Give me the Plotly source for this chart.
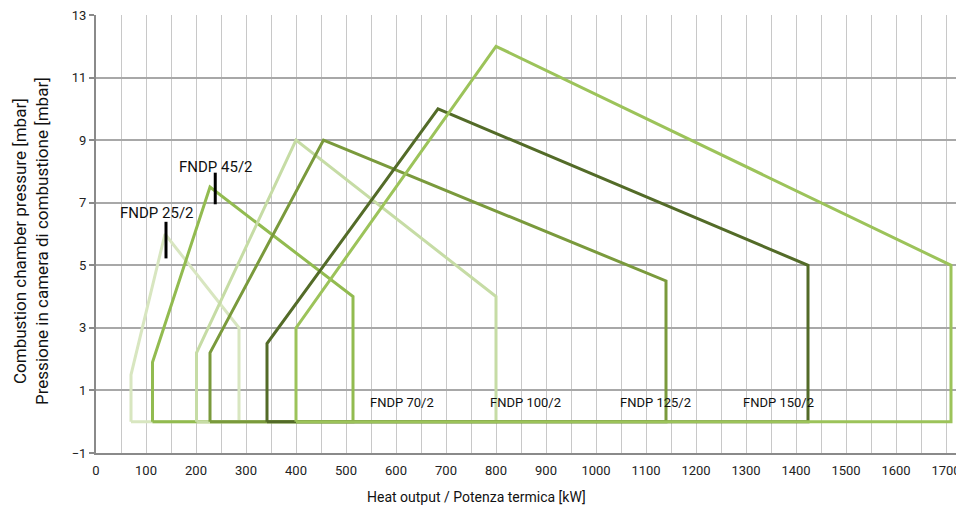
import plotly.graph_objects as go

# Working-range polygons (kW, mbar)
names = ["FNDP 25/2", "FNDP 45/2", "FNDP 70/2", "FNDP 100/2", "FNDP 125/2", "FNDP 150/2"]
x_25 = [70, 70, 138, 286, 286, 70]
y_25 = [0, 1.5, 6.0, 3.0, 0, 0]
x_45 = [113, 113, 228, 514, 514, 113]
y_45 = [0, 1.9, 7.5, 4.0, 0, 0]
x_70 = [201, 201, 400, 800, 800, 201]
y_70 = [0, 2.2, 9.0, 4.0, 0, 0]
x_100 = [228, 228, 455, 1140, 1140, 228]
y_100 = [0, 2.2, 9.0, 4.5, 0, 0]
x_125 = [342, 342, 684, 1424, 1424, 342]
y_125 = [0, 2.5, 10.0, 5.0, 0, 0]
x_150 = [400, 400, 800, 1710, 1710, 400]
y_150 = [0, 3.0, 12.0, 5.0, 0, 0]
colors = ["#d8e6c0", "#92bb50", "#c6dca5", "#7a9a3c", "#536b28", "#9cc35a"]

# Label pointer marks
mark25_x = [140, 140]
mark25_y = [5.22, 6.39]
mark45_x = [238.5, 238.5]
mark45_y = [6.95, 7.96]

# Text label positions
lab_top_names = ["FNDP 25/2", "FNDP 45/2"]
lab_top_x = [122, 239]
lab_top_y = [6.68, 8.15]
lab_bot_names = ["FNDP 70/2", "FNDP 100/2", "FNDP 125/2", "FNDP 150/2"]
lab_bot_x = [611, 858, 1118, 1364]
lab_bot_y = [0.6, 0.6, 0.6, 0.6]

y_ticks = [-1, 1, 3, 5, 7, 9, 11, 13]
x_ticks = list(range(0, 1701, 100))

xs = [x_25, x_45, x_70, x_100, x_125, x_150]
ys = [y_25, y_45, y_70, y_100, y_125, y_150]

FONT = "Roboto"
fig = go.Figure()
for n, x, y, c in zip(names, xs, ys, colors):
    fig.add_trace(go.Scatter(x=x, y=y, mode="lines", name=n,
                             line=dict(color=c, width=3), hoverinfo="skip"))
for mx, my in [(mark25_x, mark25_y), (mark45_x, mark45_y)]:
    fig.add_trace(go.Scatter(x=mx, y=my, mode="lines",
                             line=dict(color="#000000", width=3), hoverinfo="skip"))

for t, x, y in zip(lab_top_names, lab_top_x, lab_top_y):
    fig.add_annotation(x=x, y=y, text=t, showarrow=False,
                       font=dict(family=FONT, size=15, color="#111"))
for t, x, y in zip(lab_bot_names, lab_bot_x, lab_bot_y):
    fig.add_annotation(x=x, y=y, text=t, showarrow=False,
                       font=dict(family=FONT, size=13, color="#111"))

fig.add_annotation(xref="paper", yref="paper", x=0, y=0.484, xshift=-65,
                   xanchor="center", yanchor="middle",
                   text="Combustion chamber pressure [mbar]<br>Pressione in camera di combustione [mbar]",
                   textangle=-90, showarrow=False,
                   font=dict(family=FONT, size=17, color="#111"))
fig.add_annotation(xref="paper", yref="paper", x=(476 - 96) / 868, y=0, yshift=-44,
                   xanchor="center", yanchor="middle",
                   text="Heat output / Potenza termica [kW]", showarrow=False,
                   font=dict(family=FONT, size=14, color="#111"))

# The page body adds an 8px offset; figure is sized so the plot area lands
# at the same pixels as the reference.
fig.update_layout(
    width=956, height=504,
    margin=dict(l=88, r=0, t=7, b=59),
    plot_bgcolor="white", paper_bgcolor="white",
    showlegend=False,
    font=dict(family=FONT, size=13, color="#222"),
    xaxis=dict(range=[0, 1736], tickvals=x_ticks, showgrid=True,
               gridcolor="#c8c8c8", gridwidth=1,
               minor=dict(dtick=50, tick0=0, showgrid=True, gridcolor="#c8c8c8", gridwidth=1),
               showline=True, linecolor="#8a8a8a", linewidth=2,
               zeroline=False, ticks="", ticklabelstandoff=4,
               ticklabeloverflow="allow"),
    yaxis=dict(range=[-1, 13], tickvals=y_ticks, showgrid=True,
               gridcolor="#a8a8a8", gridwidth=1.5,
               showline=True, linecolor="#8a8a8a", linewidth=2,
               zeroline=False, ticks="outside", ticklen=5, tickcolor="#8a8a8a",
               tickwidth=1.5, ticklabeloverflow="allow"),
)

fig.write_html("out.html")
